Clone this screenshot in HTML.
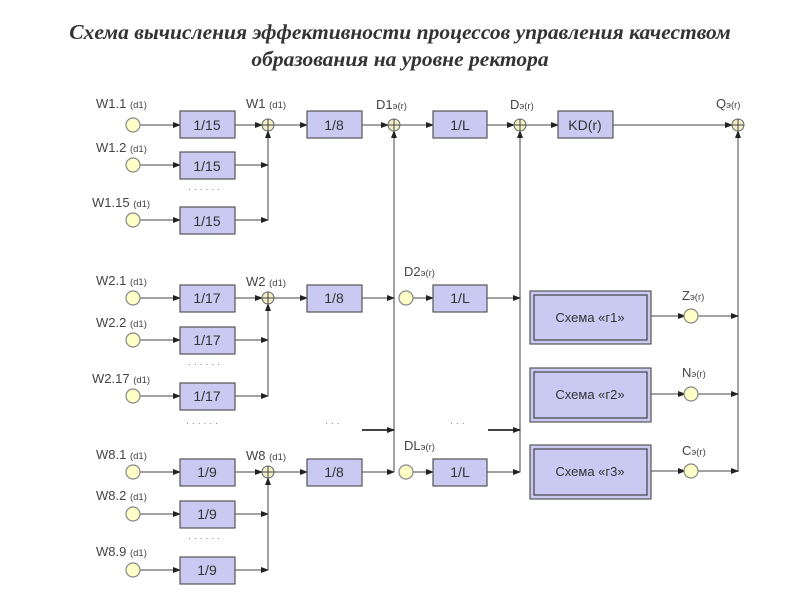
<!DOCTYPE html>
<html><head><meta charset="utf-8"><style>
body{margin:0;background:#fff;width:800px;height:600px;overflow:hidden}
svg{display:block}
.t{font-family:"Liberation Serif",serif;font-style:italic;font-weight:bold;font-size:21.5px;fill:#333}
.l{font-family:"Liberation Sans",sans-serif;font-size:13px;fill:#444}
.s{font-size:9.5px}
.b{font-family:"Liberation Sans",sans-serif;font-size:14px;fill:#333}
</style></head><body>
<svg width="800" height="600" viewBox="0 0 800 600">
<defs>
<marker id="a" markerWidth="8" markerHeight="6" refX="7" refY="3" orient="auto" markerUnits="userSpaceOnUse"><path d="M0,0 L8,3 L0,6z" fill="#222"/></marker>
<g id="c"><circle r="7" fill="#ffffc8" stroke="#888" stroke-width="1.2"/></g>
<g id="sum"><circle r="6" fill="#f4f0c8" stroke="#666"/><path d="M-6,0H6M0,-6V6" stroke="#444"/></g>
</defs>
<text class="t" x="400" y="39" text-anchor="middle">Схема вычисления эффективности процессов управления качеством</text>
<text class="t" x="400" y="66" text-anchor="middle">образования на уровне ректора</text>

<g stroke="#444" stroke-width="1" fill="none">
<path d="M140,125H180" marker-end="url(#a)"/><path d="M140,165H180" marker-end="url(#a)"/><path d="M140,220H180" marker-end="url(#a)"/>
<path d="M235,125H262" marker-end="url(#a)"/><path d="M235,165H268" marker-end="url(#a)"/><path d="M235,220H268" marker-end="url(#a)"/>
<path d="M268,220V131" marker-end="url(#a)"/>
<path d="M274,125H307" marker-end="url(#a)"/><path d="M362,125H388" marker-end="url(#a)"/>
<path d="M400,125H433" marker-end="url(#a)"/><path d="M487,125H514" marker-end="url(#a)"/>
<path d="M526,125H558" marker-end="url(#a)"/><path d="M613,125H732" marker-end="url(#a)"/>
<path d="M394,472V131" marker-end="url(#a)"/><path d="M520,472V131" marker-end="url(#a)"/><path d="M738,472V131" marker-end="url(#a)"/>
<path d="M140,298H180" marker-end="url(#a)"/><path d="M140,340H180" marker-end="url(#a)"/><path d="M140,396H180" marker-end="url(#a)"/>
<path d="M235,298H262" marker-end="url(#a)"/><path d="M235,340H268" marker-end="url(#a)"/><path d="M235,396H268" marker-end="url(#a)"/>
<path d="M268,396V304" marker-end="url(#a)"/>
<path d="M274,298H307" marker-end="url(#a)"/><path d="M362,298H394" marker-end="url(#a)"/>
<path d="M412,298H433" marker-end="url(#a)"/><path d="M487,298H520" marker-end="url(#a)"/>
<path d="M140,472H180" marker-end="url(#a)"/><path d="M140,514H180" marker-end="url(#a)"/><path d="M140,570H180" marker-end="url(#a)"/>
<path d="M235,472H262" marker-end="url(#a)"/><path d="M235,514H268" marker-end="url(#a)"/><path d="M235,570H268" marker-end="url(#a)"/>
<path d="M268,570V478" marker-end="url(#a)"/>
<path d="M274,472H307" marker-end="url(#a)"/><path d="M362,472H394" marker-end="url(#a)"/>
<path d="M412,472H433" marker-end="url(#a)"/><path d="M487,472H520" marker-end="url(#a)"/>
<path d="M362,430H394" stroke-width="2" marker-end="url(#a)"/><path d="M488,430H520" stroke-width="2" marker-end="url(#a)"/>
<path d="M651,316H685" marker-end="url(#a)"/><path d="M698,316H738" marker-end="url(#a)"/>
<path d="M651,394H685" marker-end="url(#a)"/><path d="M698,394H738" marker-end="url(#a)"/>
<path d="M651,471H685" marker-end="url(#a)"/><path d="M698,471H738" marker-end="url(#a)"/>
</g>

<g fill="#c9c9f2" stroke="#555" stroke-width="1.2">
<rect x="180" y="111" width="55" height="27"/><rect x="180" y="152" width="55" height="27"/><rect x="180" y="207" width="55" height="27"/>
<rect x="307" y="111" width="55" height="27"/><rect x="433" y="111" width="54" height="27"/><rect x="558" y="111" width="55" height="27"/>
<rect x="180" y="285" width="55" height="27"/><rect x="180" y="327" width="55" height="27"/><rect x="180" y="383" width="55" height="27"/>
<rect x="307" y="285" width="55" height="27"/><rect x="433" y="285" width="54" height="27"/>
<rect x="180" y="459" width="55" height="27"/><rect x="180" y="501" width="55" height="27"/><rect x="180" y="557" width="55" height="27"/>
<rect x="307" y="459" width="55" height="27"/><rect x="433" y="459" width="54" height="27"/>
<rect x="530" y="291" width="121" height="53"/><rect x="530" y="368" width="121" height="54"/><rect x="530" y="445" width="121" height="54"/>
<rect x="534" y="295" width="113" height="45" fill="none" stroke="#444"/><rect x="534" y="372" width="113" height="46" fill="none" stroke="#444"/><rect x="534" y="449" width="113" height="46" fill="none" stroke="#444"/>
</g>

<use href="#c" x="133" y="125"/><use href="#c" x="133" y="165"/><use href="#c" x="133" y="220"/>
<use href="#c" x="133" y="298"/><use href="#c" x="133" y="340"/><use href="#c" x="133" y="396"/>
<use href="#c" x="133" y="472"/><use href="#c" x="133" y="514"/><use href="#c" x="133" y="570"/>
<use href="#c" x="406" y="298"/><use href="#c" x="406" y="472"/>
<use href="#c" x="691" y="316"/><use href="#c" x="691" y="394"/><use href="#c" x="691" y="471"/>
<use href="#sum" x="268" y="125"/><use href="#sum" x="394" y="125"/><use href="#sum" x="520" y="125"/><use href="#sum" x="738" y="125"/>
<use href="#sum" x="268" y="298"/><use href="#sum" x="268" y="472"/>

<g class="b" text-anchor="middle">
<text x="207" y="130">1/15</text><text x="207" y="171">1/15</text><text x="207" y="226">1/15</text>
<text x="334" y="130">1/8</text><text x="460" y="130">1/L</text><text x="585" y="130">KD(r)</text>
<text x="207" y="303">1/17</text><text x="207" y="345">1/17</text><text x="207" y="401">1/17</text>
<text x="334" y="303">1/8</text><text x="460" y="303">1/L</text>
<text x="207" y="477">1/9</text><text x="207" y="519">1/9</text><text x="207" y="575">1/9</text>
<text x="334" y="477">1/8</text><text x="460" y="477">1/L</text>
<text x="590" y="322" font-size="13">Схема «г1»</text><text x="590" y="399" font-size="13">Схема «г2»</text><text x="590" y="476" font-size="13">Схема «г3»</text>
</g>

<g class="l">
<text x="96" y="108">W1.1 <tspan class="s">(d1)</tspan></text>
<text x="96" y="152">W1.2 <tspan class="s">(d1)</tspan></text>
<text x="92" y="207">W1.15 <tspan class="s">(d1)</tspan></text>
<text x="246" y="108">W1 <tspan class="s">(d1)</tspan></text>
<text x="376" y="109">D1<tspan class="s">э(r)</tspan></text>
<text x="510" y="109">D<tspan class="s">э(r)</tspan></text>
<text x="716" y="108">Q<tspan class="s">э(r)</tspan></text>
<text x="96" y="285">W2.1 <tspan class="s">(d1)</tspan></text>
<text x="96" y="327">W2.2 <tspan class="s">(d1)</tspan></text>
<text x="92" y="383">W2.17 <tspan class="s">(d1)</tspan></text>
<text x="246" y="286">W2 <tspan class="s">(d1)</tspan></text>
<text x="404" y="276">D2<tspan class="s">э(r)</tspan></text>
<text x="96" y="459">W8.1 <tspan class="s">(d1)</tspan></text>
<text x="96" y="500">W8.2 <tspan class="s">(d1)</tspan></text>
<text x="96" y="556">W8.9 <tspan class="s">(d1)</tspan></text>
<text x="246" y="460">W8 <tspan class="s">(d1)</tspan></text>
<text x="404" y="450">DL<tspan class="s">э(r)</tspan></text>
<text x="682" y="300">Z<tspan class="s">э(r)</tspan></text>
<text x="682" y="377">N<tspan class="s">э(r)</tspan></text>
<text x="682" y="455">C<tspan class="s">э(r)</tspan></text>
<g class="s" fill="#777"><text x="188" y="192">· · · · · ·</text><text x="188" y="367">· · · · · ·</text><text x="188" y="541">· · · · · ·</text>
<text x="186" y="426">· · · · · ·</text><text x="325" y="426">· · ·</text><text x="450" y="426">· · ·</text></g>
</g>
</svg>
</body></html>
